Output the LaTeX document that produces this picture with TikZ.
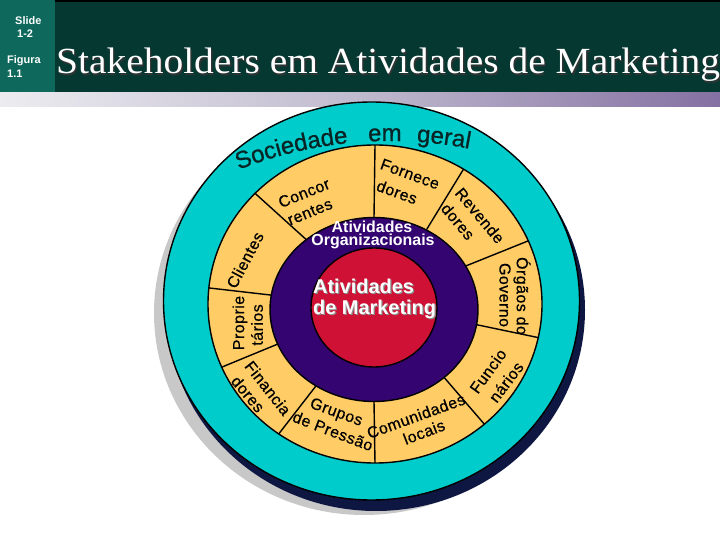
\documentclass[tikz,border=0pt]{standalone}
\usepackage{fontspec}
\setmainfont{Liberation Sans}
\newfontfamily\titlefont{Liberation Serif}
\newfontfamily\labfont[LetterSpace=3,FakeBold=0.6]{Liberation Sans}
\newfontfamily\socfamily[FakeBold=0.8]{Liberation Sans}
\usetikzlibrary{decorations.text,calc}
\definecolor{hdrband}{RGB}{6,56,50}
\definecolor{hdrcol}{RGB}{14,104,92}
\definecolor{barA}{RGB}{236,236,240}
\definecolor{barB}{RGB}{192,186,206}
\definecolor{barC}{RGB}{132,112,162}
\definecolor{barpurple}{RGB}{80,10,136}
\definecolor{ringteal}{RGB}{0,204,204}
\definecolor{ringorange}{RGB}{255,204,102}
\definecolor{ringpurple}{RGB}{52,4,112}
\definecolor{ringred}{RGB}{206,17,52}
\definecolor{shadownavy}{RGB}{14,22,66}
\definecolor{shadowgray}{RGB}{200,200,200}
\definecolor{soctext}{RGB}{8,36,36}
\pgfdeclarehorizontalshading{barshade}{100bp}{color(0bp)=(white); color(25bp)=(barA); color(50bp)=(barB); color(75bp)=(barC); color(100bp)=(barpurple)}
\newcommand\socfont{\socfamily\fontsize{24}{26}\selectfont}
\tikzset{
  seglabel/.style={inner sep=0pt, font=\labfont\fontsize{16}{17}\selectfont, text=black},
  ringline/.style={draw=black, line width=1.4bp},
  hdrtext/.style={anchor=base west, inner sep=0pt, text=white, font=\bfseries\fontsize{11}{12}\selectfont},
  orgtext/.style={inner sep=0pt, text=white, font=\bfseries\fontsize{16}{17}\selectfont},
  mkttext/.style={inner sep=0pt, anchor=west, font=\bfseries\fontsize{20}{22}\selectfont},
  soc/.style={decorate, decoration={text along path, text color=soctext, text={|\socfont|#1}}}
}
\begin{document}
\begin{tikzpicture}[x=1bp,y=1bp]
\useasboundingbox (0,0) rectangle (720,-540);
\fill[white] (0,0) rectangle (720,-540);
% header
\fill[hdrband] (0,0) rectangle (720,-93);
\fill[black] (55,0) rectangle (720,-2);
\fill[hdrcol] (0,0) rectangle (55,-93);
\shade[shading=barshade] (0,-93) rectangle (720,-107);
\node[hdrtext] (slide) at (15,-25) {Slide};
\node[hdrtext] (slidenum) at (17,-38) {1-2};
\node[hdrtext] (fig) at (7,-64) {Figura};
\node[hdrtext] (fignum) at (7,-78) {1.1};
\node[anchor=base west, inner sep=0pt, text=black!80] (titleshadow) at (57.3,-75.3)
  {\titlefont\fontsize{37}{40}\selectfont\scalebox{1.07}[1]{Stakeholders em Atividades de Marketing}};
\node[anchor=base west, inner sep=0pt, text=white] (title) at (56,-74)
  {\titlefont\fontsize{37}{40}\selectfont\scalebox{1.07}[1]{Stakeholders em Atividades de Marketing}};
% shadows and rings
\fill[shadowgray] (364,-313) ellipse [x radius=210, y radius=202];
\fill[shadownavy] (376,-310) ellipse [x radius=209, y radius=201];
\draw[ringline, fill=ringteal] (371.5,-301) ellipse [x radius=208, y radius=199];
\draw[ringline, fill=ringorange] (375,-304) ellipse [x radius=167, y radius=159];
\coordinate (oc) at (375,-304);
\coordinate (pc) at (374,-309.5);
% segment labels
\begin{scope}
\clip (375,-304) ellipse [x radius=167, y radius=159];
\node[seglabel, rotate=22] (concorA) at (304,-193) {Concor};
\node[seglabel, rotate=22] (concorB) at (310,-212) {rentes};
\node[seglabel, rotate=-20] (forneceA) at (410,-174) {Fornece};
\node[seglabel, rotate=-20] (forneceB) at (397,-192) {dores};
\node[seglabel, rotate=-50] (revendeA) at (480,-215.5) {Revende};
\node[seglabel, rotate=-50] (revendeB) at (458,-221.5) {dores};
\node[seglabel, rotate=-90] (orgaosA) at (522,-296) {Órgãos do};
\node[seglabel, rotate=-90] (orgaosB) at (505,-295) {Governo};
\node[seglabel, rotate=54] (funcioA) at (488,-371) {Funcio};
\node[seglabel, rotate=53] (funcioB) at (506,-382) {nários};
\node[seglabel, rotate=20] (comunA) at (416,-416) {Comunidades};
\node[seglabel, rotate=21] (comunB) at (424,-432) {locais};
\node[seglabel, rotate=-20] (gruposA) at (336,-413) {Grupos};
\node[seglabel, rotate=-21] (gruposB) at (333,-431) {de Pressão};
\node[seglabel, rotate=-52] (financA) at (268,-388) {Financia};
\node[seglabel, rotate=-50] (financB) at (248,-394) {dores};
\node[seglabel, rotate=90] (propA) at (240,-323) {Proprie};
\node[seglabel, rotate=90] (propB) at (257,-325) {tários};
\node[seglabel, rotate=62] (clientes) at (245,-260) {Clientes};
\end{scope}
% dividers
\foreach \ai/\ao in {90/90, 59.8/58, 28.2/23.4, -9.5/-12.2, -47.6/-49.1, -90/-90, -123.9/-125.2, 202.1/203.4, 171/174.2, 130.6/135.9}{
  \draw[ringline, shorten <=-6pt] ($(pc)+(\ai:104 and 92)$) -- ($(oc)+(\ao:167 and 159)$);
}
\draw[ringline, fill=ringpurple] (374,-309.5) ellipse [x radius=104, y radius=92];
\draw[ringline, fill=ringred] (374,-307.5) ellipse [x radius=63, y radius=59.5];
% inner texts
\node[orgtext] (orgA) at (372,-226.5) {Atividades};
\node[orgtext] (orgB) at (373,-241.5) {Organizacionais};
\node[mkttext, text=black!45] (mktAs) at (314.2,-287.2) {Atividades};
\node[mkttext, text=black!45] (mktBs) at (314.2,-310.2) {de Marketing};
\node[mkttext, text=white] (mktA) at (313,-286) {Atividades};
\node[mkttext, text=white] (mktB) at (313,-309) {de Marketing};
% Sociedade em geral
\path[soc={Sociedade}] (390,-554) ++(111.5:413) arc[start angle=111.5, end angle=80, radius=413];
\path[soc={em}] (390,-554) ++(93:413) arc[start angle=93, end angle=80, radius=413];
\path[soc={geral}] (390,-554) ++(86.3:413) arc[start angle=86.3, end angle=70, radius=413];
\end{tikzpicture}
\end{document}
